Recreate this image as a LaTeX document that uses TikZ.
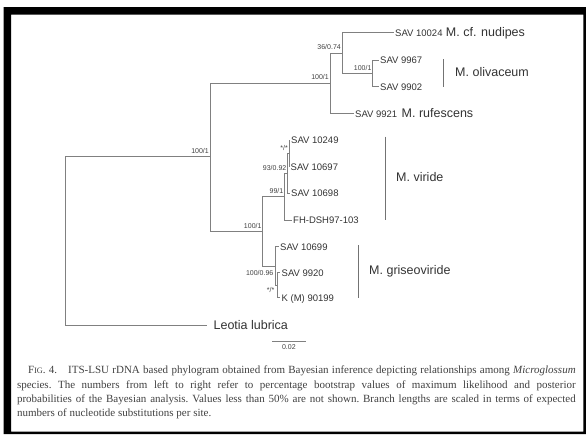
\documentclass[tikz,border=0pt]{standalone}
\usepackage{fontspec}
\setmainfont{Liberation Serif}
\newfontfamily\treefont{Liberation Sans}
\usetikzlibrary{positioning}
\newcommand{\figsc}{F{\fontsize{8.3}{10}\selectfont IG}.}

\begin{document}
\begin{tikzpicture}[x=1pt, y=-1pt,
    branch/.style={draw=black!50, line width=0.9pt},
    cladebar/.style={draw=black!55, line width=0.9pt},
    leaf/.style={anchor=west, inner xsep=1.5pt, inner ysep=0pt, text height=7pt, text depth=0pt, text=black!80, font=\treefont\fontsize{9.5}{10}\selectfont},
    clade/.style={inner sep=0pt, text=black!80, font=\treefont\fontsize{12.5}{13}\selectfont},
    support/.style={inner sep=1pt, yshift=2pt, text=black!75, font=\treefont\fontsize{7}{8}\selectfont},
    caption/.style={inner sep=0pt, text width=558.7pt, align=justify, text=black!75, font=\fontsize{11}{14.2}\selectfont\frenchspacing}]
    \useasboundingbox (0,0) rectangle (586,434);

    % Frame
    \fill[black, even odd rule] (3.5,7) rectangle (586,434) (11,14.5) rectangle (583.3,431.5);

    % Internal nodes
    \coordinate (root) at (65.8,240.8);
    \coordinate (A) at (210,156.9);
    \coordinate (B) at (330,83.2);
    \coordinate (C) at (342,53);
    \coordinate (D) at (372.6,73.3);
    \coordinate (E) at (262.7,231.5);
    \coordinate (H) at (284.5,196.8);
    \coordinate (I) at (287.5,173.3);
    \coordinate (J) at (289,153.3);
    \coordinate (F) at (275.5,266.1);
    \coordinate (G) at (277.5,285.2);

    % Leaves
    \node[leaf] (s10024) at (393.5,32.7) {SAV 10024};
    \node[leaf] (s9967) at (378.5,60) {SAV 9967};
    \node[leaf] (s9902) at (378.5,86.7) {SAV 9902};
    \node[leaf] (s9921) at (353.5,113.5) {SAV 9921};
    \node[leaf] (s10249) at (289.5,140) {SAV 10249};
    \node[leaf] (s10697) at (289,166.7) {SAV 10697};
    \node[leaf] (s10698) at (289.5,193.3) {SAV 10698};
    \node[leaf] (fhdsh) at (291.5,220) {FH-DSH97-103};
    \node[leaf] (s10699) at (278.5,246.7) {SAV 10699};
    \node[leaf] (s9920) at (280,272.7) {SAV 9920};
    \node[leaf] (k90199) at (280,297.7) {K (M) 90199};
    \node[clade, anchor=west, inner xsep=6pt] (leotia) at (207.4,325) {Leotia lubrica};

    % Species names
    \node[clade, base right=1.5pt of s10024] (nudipes) {M. cf. nudipes};
    \node[clade, base right=2.5pt of s9921] (rufescens) {M. rufescens};
    \node[clade, anchor=west] (olivaceum) at (455,71.7) {M. olivaceum};
    \node[clade, anchor=west] (viride) at (396,176.7) {M. viride};
    \node[clade, anchor=west] (griseo) at (369,271.7) {M. griseoviride};
    \draw[cladebar] (443.6,59.3) -- (443.6,86.7);
    \draw[cladebar] (385,136.7) -- (385,220);
    \draw[cladebar] (358,245) -- (358,297.7);

    % Branches
    \draw[branch] (root) |- (A);
    \draw[branch] (root) |- (leotia);
    \draw[branch] (A) |- (B);
    \draw[branch] (A) |- (E);
    \draw[branch] (B) |- (C);
    \draw[branch] (B) |- (s9921);
    \draw[branch] (C) |- (s10024);
    \draw[branch] (C) |- (D);
    \draw[branch] (D) |- (s9967);
    \draw[branch] (D) |- (s9902);
    \draw[branch] (E) |- (H);
    \draw[branch] (E) |- (F);
    \draw[branch] (H) |- (I);
    \draw[branch] (H) |- (fhdsh);
    \draw[branch] (I) |- (J);
    \draw[branch] (I) |- (s10698);
    \draw[branch] (J) |- (s10249);
    \draw[branch] (J) |- (s10697);
    \draw[branch] (F) |- (s10699);
    \draw[branch] (F) |- (G);
    \draw[branch] (G) |- (s9920);
    \draw[branch] (G) |- (k90199);

    % Support values
    \node[support, anchor=south east] (supA) at (A) {100/1};
    \node[support, anchor=south east] (supB) at (B) {100/1};
    \node[support, anchor=south east] (supC) at (C) {36/0.74};
    \node[support, anchor=south east] (supD) at (D) {100/1};
    \node[support, anchor=south east] (supE) at (E) {100/1};
    \node[support, anchor=south east] (supH) at (H) {99/1};
    \node[support, anchor=south east] (supI) at (I) {93/0.92};
    \node[support, anchor=south east] (supJ) at (J) {*/*};
    \node[support, anchor=east] (supF) at ([xshift=-3pt, yshift=10pt]G) {100/0.96};
    \node[support, anchor=east] (supG) at ([xshift=-2pt, yshift=-7pt]G) {*/*};

    % Scale bar
    \coordinate (bar0) at (272,341.7);
    \coordinate (bar1) at (305.7,341.7);
    \draw[branch] (bar0) -- (bar1) node[support, midway, below, yshift=-3pt] (barlab) {0.02};

    % Caption
    \node[caption, anchor=north west] (cap) at (16.8,366) {\hspace*{11pt}\figsc~4.\quad ITS-LSU rDNA based phylogram obtained from Bayesian inference depicting relationships among \textit{Microglossum}\linebreak species. The numbers from left to right refer to percentage bootstrap values of maximum likelihood and posterior\linebreak probabilities of the Bayesian analysis. Values less than 50\% are not shown. Branch lengths are scaled in terms of expected\linebreak numbers of nucleotide substitutions per site.};
\end{tikzpicture}
\end{document}
